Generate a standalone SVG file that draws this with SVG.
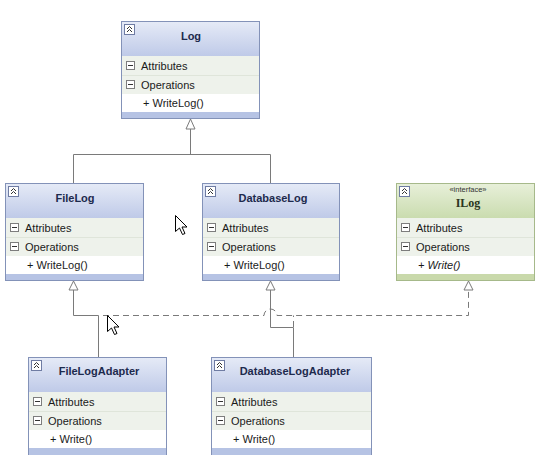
<svg xmlns="http://www.w3.org/2000/svg" width="536" height="455" viewBox="0 0 536 455">
<defs>
<linearGradient id="hb" x1="0" y1="0" x2="0" y2="1"><stop offset="0" stop-color="#e6ebf7"/><stop offset="1" stop-color="#bfcae8"/></linearGradient>
<linearGradient id="hg" x1="0" y1="0" x2="0" y2="1"><stop offset="0" stop-color="#e8f0da"/><stop offset="1" stop-color="#cadcaf"/></linearGradient>
<g id="col"><rect x="0.5" y="0.5" width="10" height="10" fill="#fff" stroke="#6f7ca3"/><path d="M3 5 L5.5 2.5 L8 5 M3 8 L5.5 5.5 L8 8" fill="none" stroke="#333" stroke-width="1"/></g>
<g id="min"><rect x="0.5" y="0.5" width="8" height="8" fill="#fff" stroke="#7d7d7d"/><path d="M2 4.5 H7" stroke="#333"/></g>
<path id="cur" d="M0 0 L0 16 L4 12.5 L7 19 L9.5 18 L6.5 11.5 L11.5 11.5 Z"/>
</defs>
<style>
.t{font-family:"Liberation Sans",Arial,sans-serif;font-size:11px;fill:#1a1a1a}
.b{font-weight:bold;text-anchor:middle;fill:#1d2a4d}
.hdr{fill:url(#hb)}
.row{fill:#eef2eb}
.meth{fill:#fff}
.bar{fill:#b6c3e4}
.brd{fill:none;stroke:#8392b8}
.gbar{fill:#c9d9ab}
.gbrd{fill:none;stroke:#a6b98a}
.sep{stroke:#dfe5da}
.ln{fill:none;stroke:#7a7a7a}
.dl{fill:none;stroke:#7a7a7a;stroke-dasharray:6 4}
.ah{fill:#fff;stroke:#7a7a7a}
.cur{fill:#fff;stroke:#000;stroke-width:1}
</style>

<g id="Log">
<rect class="hdr" x="121" y="21" width="139" height="35"/>
<rect class="row" x="121" y="56" width="139" height="38"/>
<line class="sep" x1="121" y1="75.5" x2="260" y2="75.5"/>
<rect class="meth" x="121" y="94" width="139" height="18"/>
<rect class="bar" x="121" y="112" width="139" height="7"/>
<rect class="brd" x="121.5" y="21.5" width="138" height="97"/>
<use href="#col" x="124" y="24"/>
<text class="t b" x="191" y="40">Log</text>
<use href="#min" x="126" y="61"/><text class="t" x="141" y="70">Attributes</text>
<use href="#min" x="126" y="80"/><text class="t" x="141" y="89">Operations</text>
<text class="t" x="143" y="107">+ WriteLog()</text>
</g>

<g id="FileLog">
<rect class="hdr" x="5" y="183" width="139" height="35"/>
<rect class="row" x="5" y="218" width="139" height="38"/>
<line class="sep" x1="5" y1="237.5" x2="144" y2="237.5"/>
<rect class="meth" x="5" y="256" width="139" height="18"/>
<rect class="bar" x="5" y="274" width="139" height="7"/>
<rect class="brd" x="5.5" y="183.5" width="138" height="97"/>
<use href="#col" x="8" y="186"/>
<text class="t b" x="75" y="202">FileLog</text>
<use href="#min" x="10" y="223"/><text class="t" x="25" y="232">Attributes</text>
<use href="#min" x="10" y="242"/><text class="t" x="25" y="251">Operations</text>
<text class="t" x="27" y="269">+ WriteLog()</text>
</g>

<g id="DatabaseLog">
<rect class="hdr" x="202" y="183" width="138" height="35"/>
<rect class="row" x="202" y="218" width="138" height="38"/>
<line class="sep" x1="202" y1="237.5" x2="340" y2="237.5"/>
<rect class="meth" x="202" y="256" width="138" height="18"/>
<rect class="bar" x="202" y="274" width="138" height="7"/>
<rect class="brd" x="202.5" y="183.5" width="137" height="97"/>
<use href="#col" x="205" y="186"/>
<text class="t b" x="273" y="202">DatabaseLog</text>
<use href="#min" x="207" y="223"/><text class="t" x="222" y="232">Attributes</text>
<use href="#min" x="207" y="242"/><text class="t" x="222" y="251">Operations</text>
<text class="t" x="224" y="269">+ WriteLog()</text>
</g>

<g id="ILog">
<rect x="396" y="183" width="139" height="35" fill="url(#hg)"/>
<rect class="row" x="396" y="218" width="139" height="38"/>
<line class="sep" x1="396" y1="237.5" x2="535" y2="237.5"/>
<rect class="meth" x="396" y="256" width="139" height="18"/>
<rect class="gbar" x="396" y="274" width="139" height="7"/>
<rect class="gbrd" x="396.5" y="183.5" width="138" height="97"/>
<use href="#col" x="399" y="186"/>
<text class="t" x="468" y="192" text-anchor="middle" style="font-size:7.5px;fill:#333">«interface»</text>
<text x="468" y="207" text-anchor="middle" style="font-family:'Liberation Serif',serif;font-weight:bold;font-size:12px;fill:#2a3520">ILog</text>
<use href="#min" x="401" y="223"/><text class="t" x="416" y="232">Attributes</text>
<use href="#min" x="401" y="242"/><text class="t" x="416" y="251">Operations</text>
<text class="t" x="418" y="269" font-style="italic">+ Write()</text>
</g>

<g id="FileLogAdapter">
<rect class="hdr" x="28" y="357" width="139" height="35"/>
<rect class="row" x="28" y="392" width="139" height="38"/>
<line class="sep" x1="28" y1="411.5" x2="167" y2="411.5"/>
<rect class="meth" x="28" y="430" width="139" height="18"/>
<rect class="bar" x="28" y="448" width="139" height="7"/>
<rect class="brd" x="28.5" y="357.5" width="138" height="98"/>
<use href="#col" x="31" y="360"/>
<text class="t b" x="99" y="375">FileLogAdapter</text>
<use href="#min" x="33" y="397"/><text class="t" x="48" y="406">Attributes</text>
<use href="#min" x="33" y="416"/><text class="t" x="48" y="425">Operations</text>
<text class="t" x="50" y="443">+ Write()</text>
</g>

<g id="DatabaseLogAdapter">
<rect class="hdr" x="211" y="357" width="161" height="35"/>
<rect class="row" x="211" y="392" width="161" height="38"/>
<line class="sep" x1="211" y1="411.5" x2="372" y2="411.5"/>
<rect class="meth" x="211" y="430" width="161" height="18"/>
<rect class="bar" x="211" y="448" width="161" height="7"/>
<rect class="brd" x="211.5" y="357.5" width="160" height="98"/>
<use href="#col" x="214" y="360"/>
<text class="t b" x="295" y="375">DatabaseLogAdapter</text>
<use href="#min" x="216" y="397"/><text class="t" x="231" y="406">Attributes</text>
<use href="#min" x="216" y="416"/><text class="t" x="231" y="425">Operations</text>
<text class="t" x="233" y="443">+ Write()</text>
</g>

<g id="connectors">
<path class="ln" d="M73.5 183 V154.5 H270.5 V183 M190.5 154.5 V129"/>
<path class="ah" d="M190.5 119 L186 129 H195 Z"/>
<path class="ln" d="M98.5 357 V315.5 H73.5 V290"/>
<path class="ah" d="M73.5 281 L69 290 H78 Z"/>
<path class="ln" d="M293.5 357 V327.5 H270.5 V290" stroke="#9a9a9a"/>
<path class="ah" d="M270.5 281 L266 290 H275 Z" stroke="#b0b0b0"/>
<path class="dl" d="M103 315.5 H264 A6.5 6.5 0 0 1 277 315.5 H468.5 V290"/>
<path class="dl" d="M293.5 327 V315.5"/>
<path class="ah" d="M468.5 281 L464 290 H473 Z"/>
</g>

<use href="#cur" class="cur" x="175.5" y="215.5"/>
<use href="#cur" class="cur" x="107.5" y="315.5"/>
</svg>
